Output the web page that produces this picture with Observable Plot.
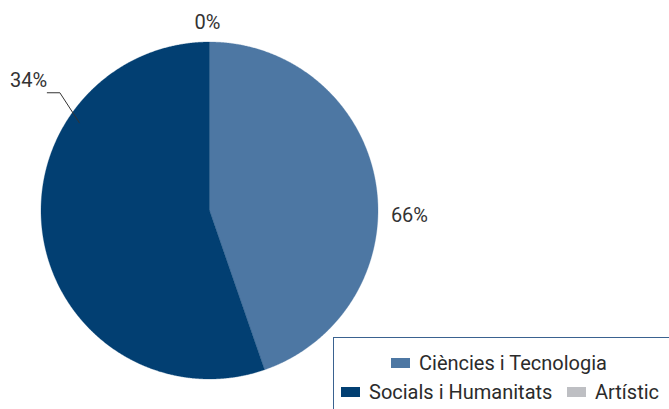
<!DOCTYPE html>
<html><head><meta charset="utf-8">
<script src="https://cdn.jsdelivr.net/npm/d3@7"></script>
<script src="https://cdn.jsdelivr.net/npm/@observablehq/plot@0.6"></script>
<style>
html,body{margin:0;padding:0;background:#fff;}
#wrap{position:relative;width:669px;height:409px;overflow:hidden;font-family:Roboto,sans-serif;color:#333;}
#wrap svg{display:block;}
#legend{position:absolute;left:333px;top:337px;width:400px;height:120px;border:1px solid #3a6290;box-sizing:border-box;}
.item{position:absolute;display:flex;align-items:center;font-size:20px;line-height:20px;white-space:nowrap;color:#2b2b2b;}
.sw{display:inline-block;width:19px;height:10px;margin-right:9px;}
</style></head>
<body><div id="wrap"></div>
<script>
// data
const categories = ["Ciències i Tecnologia", "Socials i Humanitats", "Artístic"];
const shares = [44.7, 55.3, 0];            // slice sizes as drawn
const labelTexts = ["66%", "34%", "0%"];   // printed labels
const colors = ["#4d77a3", "#023f72", "#bebfc3"];

// layout
const W = 669, H = 409, cx = 209, cy = 210, R = 168.5;
const labelLayout = [{a: 91.4, r: 200}, {a: 305.6, r: 222.5}, {a: 359.4, r: 187.5}];
const deg = Math.PI / 180;
const polar = (a, r) => ({x: cx + r * Math.sin(a), y: cy - r * Math.cos(a)});

const arcs = d3.pie().sort(null).value(d => d)(shares);
const pts = [];
arcs.forEach((a, i) => {
  const span = a.endAngle - a.startAngle;
  if (span <= 0) return;
  const n = Math.max(2, Math.ceil(span / 0.005));
  pts.push({cat: categories[i], x: cx, y: cy});
  for (let k = 0; k <= n; k++) {
    const p = polar(a.startAngle + span * k / n, R);
    pts.push({cat: categories[i], ...p});
  }
  pts.push({cat: categories[i], x: cx, y: cy});
});

const labels = labelTexts.map((t, i) => ({t, ...polar(labelLayout[i].a * deg, labelLayout[i].r)}));

// leader line for the 34% label
const lp1 = polar(304 * deg, 157), lp2 = polar(308.2 * deg, 190.4);
const leader = [lp1, lp2, {x: lp2.x - 12.6, y: lp2.y}];

const chart = Plot.plot({
  width: W, height: H,
  margin: 0,
  x: {domain: [0, W], range: [0, W], axis: null},
  y: {domain: [0, H], range: [0, H], axis: null},
  color: {domain: categories, range: colors},
  style: {fontFamily: "Roboto, sans-serif", background: "white"},
  marks: [
    Plot.line(pts, {x: "x", y: "y", z: "cat", fill: "cat", stroke: "cat", strokeWidth: 0.3, curve: "linear"}),
    Plot.line(leader, {x: "x", y: "y", stroke: "#333", strokeWidth: 1}),
    Plot.text(labels, {x: "x", y: "y", text: "t", fontSize: 20, fill: "#333", textAnchor: "middle", lineAnchor: "middle"})
  ]
});

const wrap = document.getElementById("wrap");
wrap.appendChild(chart);

// legend box
const lg = document.createElement("div");
lg.id = "legend";
wrap.appendChild(lg);
const legendPos = [{left: 391, top: 353}, {left: 341, top: 382}, {left: 567, top: 382}];
categories.forEach((c, i) => {
  const it = document.createElement("div");
  it.className = "item";
  it.style.left = legendPos[i].left + "px";
  it.style.top = legendPos[i].top + "px";
  const sw = document.createElement("span");
  sw.className = "sw";
  sw.style.background = colors[i];
  it.appendChild(sw);
  it.appendChild(document.createTextNode(c));
  wrap.appendChild(it);
});
</script></body></html>
